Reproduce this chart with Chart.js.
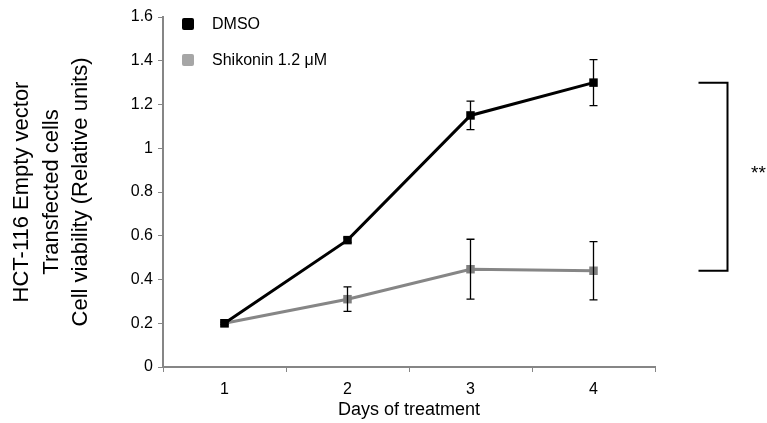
<!DOCTYPE html>
<html>
<head>
<meta charset="utf-8">
<script src="https://cdn.jsdelivr.net/npm/chart.js@4"></script>
<style>
  html, body { margin: 0; padding: 0; background: #fff; }
  #wrap { width: 767px; height: 423px; }
</style>
</head>
<body>
<div id="wrap"><canvas id="viabilityChart"></canvas></div>
<script>
const days = ['1', '2', '3', '4'];
const dmso = [0.20, 0.58, 1.15, 1.30];
const dmsoErr = [0.0, 0.01, 0.065, 0.105];
const shikonin = [0.20, 0.31, 0.447, 0.44];
const shikoninErr = [0.005, 0.056, 0.137, 0.133];
const yTicks = [0, 0.2, 0.4, 0.6, 0.8, 1, 1.2, 1.4, 1.6];
const seriesNames = ['DMSO', 'Shikonin 1.2 \u03bcM'];
const yTitle = ['HCT-116 Empty vector', 'Transfected cells', 'Cell viability (Relative units)'];
const xTitle = 'Days of treatment';
const sigLabel = '**';

const FONT = '"Liberation Sans", Arial, sans-serif';
const AXIS_GREY = '#868686';

// error bars, bracket and legend are painted on top of the chart
const extrasPlugin = {
    id: 'extras',
    afterDatasetsDraw(chart) {
        const { ctx, scales } = chart;
        const x = scales.x, y = scales.y;
        const errs = [dmsoErr, shikoninErr];
        ctx.save();
        ctx.strokeStyle = '#000';
        ctx.lineWidth = 1.3;
        chart.data.datasets.forEach((ds, i) => {
            ds.data.forEach((v, j) => {
                const e = errs[i][j];
                if (!e) return;
                const px = x.getPixelForValue(j);
                const top = y.getPixelForValue(v + e);
                const bot = y.getPixelForValue(v - e);
                ctx.beginPath();
                ctx.moveTo(px, top); ctx.lineTo(px, bot);
                ctx.moveTo(px - 4, top); ctx.lineTo(px + 4, top);
                ctx.moveTo(px - 4, bot); ctx.lineTo(px + 4, bot);
                ctx.stroke();
            });
        });
        ctx.restore();
    },
    afterDraw(chart) {
        const { ctx, scales } = chart;
        const x = scales.x, y = scales.y;
        const last = days.length - 1;
        const bx = x.getPixelForValue(last) + 105;
        const yTop = y.getPixelForValue(dmso[last]);
        const yBot = y.getPixelForValue(shikonin[last]);
        ctx.save();
        ctx.strokeStyle = '#000';
        ctx.lineWidth = 2;
        ctx.beginPath();
        ctx.moveTo(bx, yTop); ctx.lineTo(bx + 29, yTop);
        ctx.lineTo(bx + 29, yBot); ctx.lineTo(bx, yBot);
        ctx.stroke();
        ctx.fillStyle = '#000';
        ctx.font = '19px ' + FONT;
        ctx.textAlign = 'center';
        ctx.textBaseline = 'middle';
        ctx.fillText(sigLabel, bx + 60, (yTop + yBot) / 2 - 3);

        // legend inside the plot
        const colors = ['#000000', '#a6a6a6'];
        ctx.textAlign = 'left';
        ctx.font = '16px ' + FONT;
        seriesNames.forEach((name, i) => {
            const ly = 24 + i * 36;
            ctx.fillStyle = colors[i];
            ctx.beginPath();
            ctx.roundRect(182, ly - 6, 12, 12, 2);
            ctx.fill();
            ctx.fillStyle = '#000';
            ctx.fillText(name, 212, ly + 1);
        });
        ctx.restore();
    }
};

const ctx = document.getElementById('viabilityChart').getContext('2d');
const viabilityChart = new Chart(ctx, {
    type: 'line',
    data: {
        labels: days,
        datasets: [{
            label: seriesNames[0],
            data: dmso,
            borderColor: '#000',
            backgroundColor: '#000',
            borderWidth: 3,
            pointStyle: 'rect',
            pointRadius: 6,
            pointBorderWidth: 0,
            tension: 0
        }, {
            label: seriesNames[1],
            data: shikonin,
            borderColor: '#868686',
            backgroundColor: '#7f7f7f',
            borderWidth: 3,
            pointStyle: 'rect',
            pointRadius: 6,
            pointBorderWidth: 0,
            tension: 0
        }]
    },
    options: {
        responsive: true,
        maintainAspectRatio: false,
        animation: false,
        layout: { padding: { top: 17, right: 112, bottom: 0, left: 0 } },
        plugins: {
            legend: { display: false },
            tooltip: { enabled: false }
        },
        scales: {
            x: {
                offset: true,
                grid: {
                    offset: true,
                    drawOnChartArea: false,
                    drawTicks: true,
                    tickLength: 5,
                    tickColor: AXIS_GREY,
                    tickWidth: 1
                },
                border: { color: AXIS_GREY, width: 2 },
                ticks: { color: '#000', font: { family: FONT, size: 16 }, padding: 8 },
                title: {
                    display: true,
                    text: xTitle,
                    color: '#000',
                    font: { family: FONT, size: 18 },
                    padding: { top: 0, bottom: 2 }
                },
                afterFit(scale) { scale.height = 56; }
            },
            y: {
                min: 0,
                max: 1.6,
                afterBuildTicks(scale) {
                    scale.ticks = yTicks.map(v => ({ value: v }));
                },
                grid: {
                    drawOnChartArea: false,
                    drawTicks: true,
                    tickLength: 5,
                    tickColor: AXIS_GREY
                },
                border: { color: AXIS_GREY, width: 2 },
                ticks: {
                    color: '#000',
                    font: { family: FONT, size: 16 },
                    padding: 5,
                    callback: v => String(v)
                },
                title: {
                    display: true,
                    text: yTitle,
                    color: '#000',
                    font: { family: FONT, size: 22, lineHeight: 1.35 },
                    padding: { top: 7, bottom: 0 }
                },
                afterFit(scale) { scale.width = 163; }
            }
        }
    },
    plugins: [extrasPlugin]
});
</script>
</body>
</html>
